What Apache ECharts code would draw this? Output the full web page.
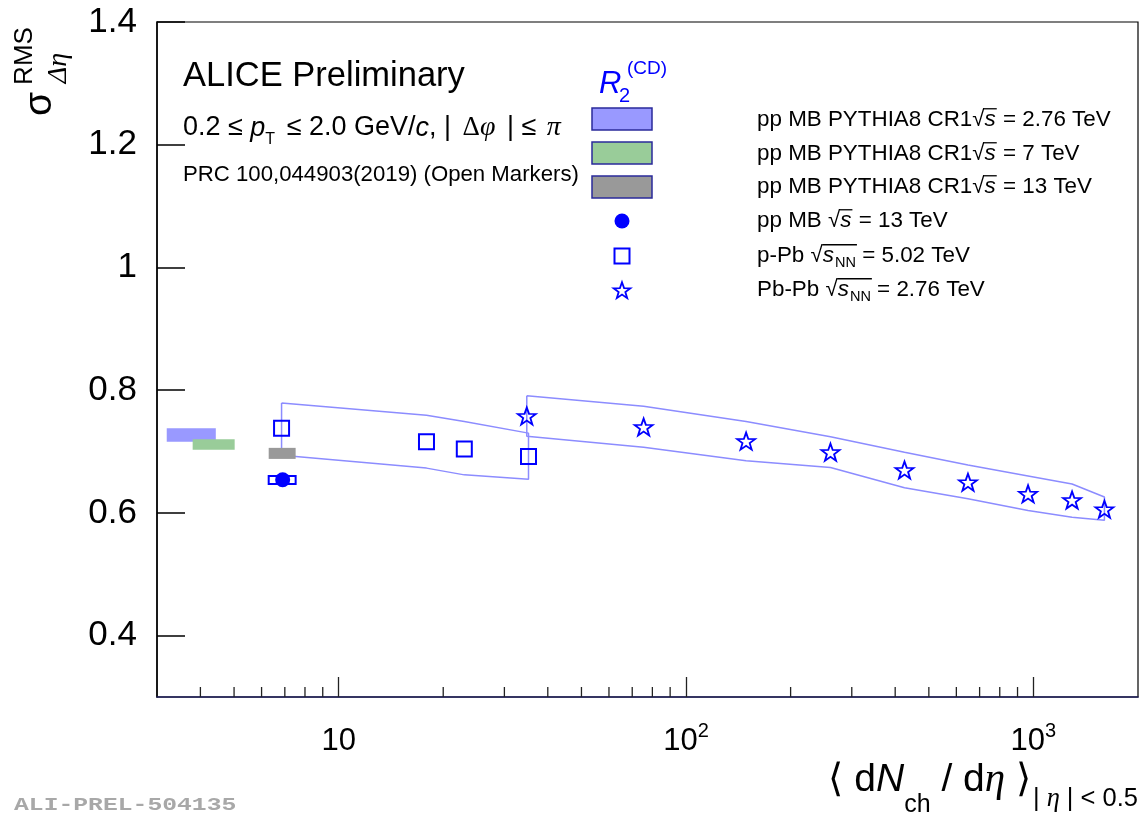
<!DOCTYPE html>
<html>
<head>
<meta charset="utf-8">
<script src="https://cdn.jsdelivr.net/npm/echarts@6/dist/echarts.min.js"></script>
<style>
  html, body { margin: 0; padding: 0; background: #fff; }
  #chart { width: 1140px; height: 818px; }
</style>
</head>
<body>
<div id="chart"></div>
<script>
// ---- axis ranges and ticks ----
const X_MIN = 3, X_MAX = 2000;
const Y_MIN = 0.3, Y_MAX = 1.4;
const yTicks = [0.4, 0.6, 0.8, 1.0, 1.2, 1.4];
const xMajorTicks = [10, 100, 1000];
const xMinorTicks = [4, 5, 6, 7, 8, 9, 20, 30, 40, 50, 60, 70, 80, 90,
                     200, 300, 400, 500, 600, 700, 800, 900];

// ---- PYTHIA8 CR1 pp MB bands: [dNch/deta low, high, sigma low, high] ----
const pythia276 = [3.2, 4.43, 0.716, 0.738];
const pythia7   = [3.8, 5.02, 0.703, 0.720];
const pythia13  = [6.29, 7.52, 0.688, 0.706];

// ---- pp MB 13 TeV (filled circle) ----
const ppX = [6.9];
const ppY = [0.654];
const ppSys = [[6.29, 7.52, 0.647, 0.660]];

// ---- p-Pb 5.02 TeV (open squares) ----
const pPbX      = [6.85, 17.9, 23.0, 35.2];
const pPbY      = [0.738, 0.716, 0.704, 0.692];
const pPbSysHi  = [0.779, 0.759, 0.749, 0.730];
const pPbSysLo  = [0.694, 0.673, 0.662, 0.655];

// ---- Pb-Pb 2.76 TeV (open stars) ----
const PbPbX     = [34.8, 75.5, 148.9, 260.5, 425.5, 648, 965, 1292, 1601];
const PbPbY     = [0.758, 0.740, 0.717, 0.699, 0.670, 0.650, 0.631, 0.621, 0.606];
const PbPbSysHi = [0.791, 0.774, 0.749, 0.724, 0.699, 0.678, 0.660, 0.647, 0.626];
const PbPbSysLo = [0.725, 0.707, 0.685, 0.674, 0.641, 0.623, 0.604, 0.593, 0.588];

// ---- legend entries ----
const legendPre  = ['pp MB PYTHIA8 CR1', 'pp MB PYTHIA8 CR1', 'pp MB PYTHIA8 CR1',
                    'pp MB ', 'p-Pb ', 'Pb-Pb '];
const legendNN   = [false, false, false, false, true, true];
const legendPost = [' = 2.76 TeV', ' = 7 TeV', ' = 13 TeV', ' = 13 TeV', ' = 5.02 TeV', ' = 2.76 TeV'];

const SANS = '"Liberation Sans", Arial, Helvetica, sans-serif';
const SERIF = '"Liberation Serif", "DejaVu Serif", "Times New Roman", serif';
const BLUE = '#0000ff';
const BAND_LINE = '#8c8cff';

const chart = echarts.init(document.getElementById('chart'), null, { renderer: 'canvas' });

// ---- text helpers (piecewise math-like labels) ----
const mctx = document.createElement('canvas').getContext('2d');
mctx.textBaseline = 'middle';
function fontStr(p) {
  return (p.style || 'normal') + ' ' + (p.weight || 'normal') + ' ' + p.size + 'px ' + (p.family || SANS);
}
function measure(p) { mctx.font = fontStr(p); return mctx.measureText(p.t); }

function layoutRun(x, y, pieces, align) {
  const widths = pieces.map(p => measure(p).width + (p.gap || 0));
  const total = widths.reduce((a, b) => a + b, 0);
  let cx = align === 'right' ? x - total : x;
  const els = [];
  pieces.forEach((p, i) => {
    p._x = cx; p._w = widths[i] - (p.gap || 0); p._y = y + (p.dy || 0);
    els.push({
      type: 'text', x: cx, y: p._y, z: 100, silent: true,
      style: {
        text: p.t, font: fontStr(p), fill: p.color || '#000',
        textAlign: 'left', textVerticalAlign: 'middle', align: 'left', verticalAlign: 'middle'
      }
    });
    cx += widths[i];
  });
  return els;
}

// square-root sign with an overline across its argument
function sqrtBar(sqrtPiece, lastPiece, color) {
  const m = measure(sqrtPiece);
  const top = sqrtPiece._y - m.actualBoundingBoxAscent + 0.6;
  const x0 = sqrtPiece._x + m.actualBoundingBoxRight - 1.2;
  const x1 = lastPiece._x + lastPiece._w + 1;
  return {
    type: 'line', z: 100, silent: true,
    shape: { x1: x0, y1: top, x2: x1, y2: top },
    style: { stroke: color || '#000', lineWidth: 1.3 }
  };
}

// five-pointed star outline, unit radius 10
const starPts = [[0,-10],[2.35,-3.24],[9.51,-3.09],[3.8,1.24],[5.88,8.09],[0,4],
                 [-5.88,8.09],[-3.8,1.24],[-9.51,-3.09],[-2.35,-3.24]];
const starPath = 'path://M' + starPts.map(p => p[0] + ',' + p[1]).join('L') + 'Z';

const graphics = [];

// header texts
graphics.push(...layoutRun(183, 76, [{ t: 'ALICE Preliminary', size: 34.5 }]));
graphics.push(...layoutRun(183, 128, [
  { t: '0.2 \u2264 ', size: 27 },
  { t: 'p', size: 27, style: 'italic' },
  { t: 'T', size: 16, dy: 12, gap: 4 },
  { t: ' \u2264 2.0 GeV/', size: 27 },
  { t: 'c', size: 27, style: 'italic' },
  { t: ', | ', size: 27, gap: 4 },
  { t: '\u0394', size: 27, family: SERIF },
  { t: '\u03C6', size: 28, style: 'italic', family: SERIF, gap: 4 },
  { t: ' | \u2264 ', size: 27, gap: 3 },
  { t: '\u03C0', size: 28, style: 'italic', family: SERIF }
]));
graphics.push(...layoutRun(183, 175, [{ t: 'PRC 100,044903(2019) (Open Markers)', size: 22.2 }]));

// R2(CD) header of the legend
graphics.push(...layoutRun(599, 84, [{ t: 'R', size: 31, style: 'italic', color: BLUE }]));
graphics.push(...layoutRun(619, 96, [{ t: '2', size: 20, color: BLUE }]));
graphics.push(...layoutRun(627, 69, [{ t: '(CD)', size: 19, color: BLUE }]));

// legend swatches
const swatchFill = ['#9999ff', '#99cc99', '#999999'];
const swatchY = [108, 142, 176];
swatchFill.forEach((c, i) => {
  graphics.push({
    type: 'rect', z: 100, silent: true,
    shape: { x: 592, y: swatchY[i], width: 60, height: 22 },
    style: { fill: c, stroke: '#2a2a9a', lineWidth: 1.5 }
  });
});
graphics.push({ type: 'circle', z: 100, silent: true, shape: { cx: 622, cy: 221, r: 7.5 }, style: { fill: BLUE } });
graphics.push({ type: 'rect', z: 100, silent: true, shape: { x: 614.5, y: 248.5, width: 15, height: 15 },
  style: { fill: 'none', stroke: BLUE, lineWidth: 2 } });
graphics.push({ type: 'polygon', z: 100, silent: true,
  shape: { points: starPts.map(p => [622 + p[0] * 0.88, 291 + p[1] * 0.88]) },
  style: { fill: 'none', stroke: BLUE, lineWidth: 1.8 } });

// legend labels
const legendYc = [120, 154, 187, 221, 256, 290];
legendPre.forEach((pre, i) => {
  const pieces = [
    { t: pre, size: 22.4 },
    { t: '\u221A', size: 22.4 },
    { t: 's', size: 22.4, style: 'italic', gap: 1 }
  ];
  if (legendNN[i]) pieces.push({ t: 'NN', size: 14.5, dy: 7 });
  pieces.push({ t: legendPost[i], size: 22.4 });
  graphics.push(...layoutRun(757, legendYc[i], pieces));
  graphics.push(sqrtBar(pieces[1], legendNN[i] ? pieces[3] : pieces[2]));
});

// x axis title
graphics.push(...layoutRun(1138, 780, [
  { t: '\u27E8 d', size: 39 },
  { t: 'N', size: 39, style: 'italic' },
  { t: 'ch', size: 25, dy: 25 },
  { t: ' / d', size: 39 },
  { t: '\u03B7', size: 41, style: 'italic', family: SERIF },
  { t: ' \u27E9', size: 39, gap: 2 },
  { t: '| ', size: 25.5, dy: 19 },
  { t: '\u03B7', size: 26.5, style: 'italic', family: SERIF, dy: 19 },
  { t: ' | < 0.5', size: 25.5, dy: 19 }
], 'right'));

// y axis title (rotated, reads bottom to top)
graphics.push({ type: 'text', x: 40, y: 104, rotation: Math.PI / 2, z: 100, silent: true,
  style: { text: '\u03C3', font: 'normal 39px ' + SANS, fill: '#000',
    textAlign: 'center', textVerticalAlign: 'middle', align: 'center', verticalAlign: 'middle' } });
graphics.push({ type: 'text', x: 25, y: 56, rotation: Math.PI / 2, z: 100, silent: true,
  style: { text: 'RMS', font: 'normal 26px ' + SANS, fill: '#000',
    textAlign: 'center', textVerticalAlign: 'middle', align: 'center', verticalAlign: 'middle' } });
graphics.push({ type: 'text', x: 59, y: 68, rotation: Math.PI / 2, z: 100, silent: true,
  style: { text: '\u0394\u03B7', font: 'italic 28px ' + SERIF, fill: '#000',
    textAlign: 'center', textVerticalAlign: 'middle', align: 'center', verticalAlign: 'middle' } });

// preliminary figure tag
graphics.push({ type: 'text', x: 14, y: 805, scaleX: 1.3, z: 100, silent: true,
  style: { text: 'ALI-PREL-504135', font: 'bold 19px "Liberation Mono", "DejaVu Sans Mono", monospace',
    fill: '#a8a8a8', textAlign: 'left', textVerticalAlign: 'middle', align: 'left', verticalAlign: 'middle' } });

// ---- series data built from the arrays ----
function bandOutline(xs, hi, lo) {
  const pts = [];
  xs.forEach((x, i) => pts.push([x, hi[i]]));
  for (let i = xs.length - 1; i >= 0; i--) pts.push([xs[i], lo[i]]);
  pts.push([xs[0], hi[0]]);
  return pts;
}

function rectItem(params, api) {
  const p0 = api.coord([api.value(0), api.value(3)]);
  const p1 = api.coord([api.value(1), api.value(2)]);
  return {
    type: 'rect',
    shape: { x: p0[0], y: p0[1], width: p1[0] - p0[0], height: p1[1] - p0[1] },
    style: { fill: api.visual('color') }
  };
}

const option = {
  animation: false,
  backgroundColor: '#fff',
  grid: { left: 157, right: 2, top: 22, bottom: 121, show: true, borderColor: '#000', borderWidth: 1.2,
          backgroundColor: 'transparent' },
  graphic: { elements: graphics },
  xAxis: {
    type: 'log', logBase: 10, min: X_MIN, max: X_MAX,
    axisLine: { show: true, lineStyle: { color: '#1e1e5a', width: 1.6 } },
    axisTick: { show: true, inside: true, length: 20, customValues: xMajorTicks,
                lineStyle: { color: '#222', width: 1.3 } },
    axisLabel: {
      customValues: xMajorTicks, margin: 24, color: '#000',
      formatter: v => {
        const e = Math.round(Math.log10(v));
        return e === 1 ? '{b|10}' : '{b|10}{s|' + e + '}';
      },
      rich: {
        b: { fontSize: 31, fontFamily: SANS, color: '#000', lineHeight: 36, verticalAlign: 'bottom' },
        s: { fontSize: 20, fontFamily: SANS, color: '#000', lineHeight: 20, verticalAlign: 'top' }
      }
    },
    splitLine: { show: false }
  },
  yAxis: {
    type: 'value', min: Y_MIN, max: Y_MAX,
    axisLine: { show: true, lineStyle: { color: '#000', width: 1.5 } },
    axisTick: { show: true, inside: true, length: 28, customValues: yTicks,
                lineStyle: { color: '#000', width: 1.5 } },
    axisLabel: {
      customValues: yTicks, margin: 20, color: '#000', fontSize: 35, fontFamily: SANS,
      formatter: v => (Math.abs(v - 1) < 1e-9 ? '1' : v.toFixed(1))
    },
    splitLine: { show: false }
  },
  series: [
    {
      name: 'pPbSys', type: 'line', data: bandOutline(pPbX, pPbSysHi, pPbSysLo),
      symbol: 'none', silent: true, z: 2,
      lineStyle: { color: BAND_LINE, width: 1.5 }
    },
    {
      name: 'PbPbSys', type: 'line', data: bandOutline(PbPbX, PbPbSysHi, PbPbSysLo),
      symbol: 'none', silent: true, z: 2,
      lineStyle: { color: BAND_LINE, width: 1.5 }
    },
    {
      name: 'PYTHIA8', type: 'custom', renderItem: rectItem, silent: true, z: 3,
      encode: { x: [0, 1], y: [2, 3] },
      data: [
        { value: pythia276, itemStyle: { color: '#9999ff' } },
        { value: pythia7, itemStyle: { color: '#99cc99' } },
        { value: pythia13, itemStyle: { color: '#999999' } }
      ]
    },
    {
      name: 'ppSys', type: 'custom', silent: true, z: 4,
      encode: { x: [0, 1], y: [2, 3] },
      data: ppSys,
      renderItem: (params, api) => {
        const p0 = api.coord([api.value(0), api.value(3)]);
        const p1 = api.coord([api.value(1), api.value(2)]);
        return { type: 'rect',
          shape: { x: p0[0], y: p0[1], width: p1[0] - p0[0], height: p1[1] - p0[1] },
          style: { fill: 'none', stroke: BLUE, lineWidth: 2 } };
      }
    },
    {
      name: 'xMinorTicks', type: 'custom', silent: true, z: 5,
      data: xMinorTicks.map(v => [v, Y_MIN]),
      renderItem: (params, api) => {
        const p = api.coord([api.value(0), api.value(1)]);
        return { type: 'line', shape: { x1: p[0], y1: p[1], x2: p[0], y2: p[1] - 10 },
                 style: { stroke: '#222', lineWidth: 1.3 } };
      }
    },
    {
      name: 'pp MB 13 TeV', type: 'scatter', z: 6, silent: true,
      data: ppX.map((x, i) => [x, ppY[i]]),
      symbol: 'circle', symbolSize: 15,
      itemStyle: { color: BLUE, opacity: 1 }
    },
    {
      name: 'p-Pb 5.02 TeV', type: 'scatter', z: 6, silent: true,
      data: pPbX.map((x, i) => [x, pPbY[i]]),
      symbol: 'rect', symbolSize: 15,
      itemStyle: { color: 'none', borderColor: BLUE, borderWidth: 2, opacity: 1 }
    },
    {
      name: 'Pb-Pb 2.76 TeV', type: 'scatter', z: 6, silent: true,
      data: PbPbX.map((x, i) => [x, PbPbY[i]]),
      symbol: starPath, symbolSize: [18, 17],
      itemStyle: { color: 'none', borderColor: BLUE, borderWidth: 1.8, opacity: 1 }
    }
  ]
};

chart.setOption(option);
</script>
</body>
</html>
